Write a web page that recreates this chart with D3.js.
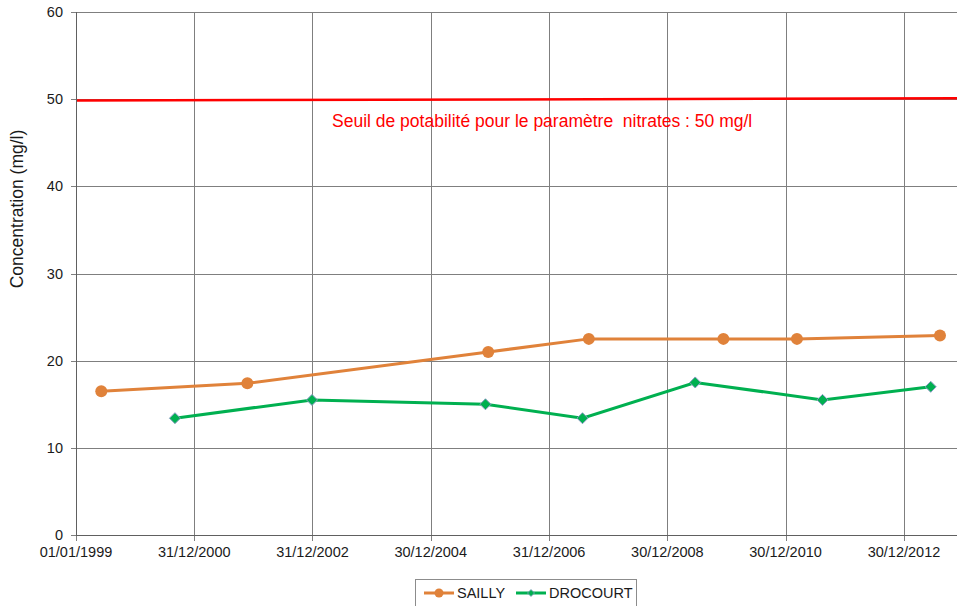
<!DOCTYPE html>
<html>
<head>
<meta charset="utf-8">
<script src="https://cdn.jsdelivr.net/npm/d3@7"></script>
<style>
  body { margin: 0; background: #fff; }
  svg { display: block; font-family: "Liberation Sans", Arial, sans-serif; }
</style>
</head>
<body>
<div id="chart"></div>
<script>
const seriesNames = ['SAILLY', 'DROCOURT']
const saillyDates = ['1999-06-06', '2001-11-24', '2005-12-20', '2007-09-02', '2009-12-11', '2011-03-10', '2013-08-09']
const saillyValues = [16.5, 17.4, 21.0, 22.5, 22.5, 22.5, 22.9]
const drocourtDates = ['2000-09-03', '2002-12-28', '2005-12-03', '2007-07-25', '2009-06-20', '2011-08-15', '2013-06-13']
const drocourtValues = [13.4, 15.5, 15.0, 13.4, 17.5, 15.5, 17.0]
const thresholdDates = ['1999-01-01', '2014-02-01']
const thresholdValues = [49.85, 50.1]
const thresholdLabel = 'Seuil de potabilité pour le paramètre  nitrates : 50 mg/l'
const xTickLabels = ['01/01/1999', '31/12/2000', '31/12/2002', '30/12/2004', '31/12/2006', '30/12/2008', '30/12/2010', '30/12/2012']
const yTicks = [0, 10, 20, 30, 40, 50, 60]
const yLabel = 'Concentration (mg/l)'

const width = 957
const height = 606
const plotLeft = 76
const plotTop = 12
const plotBottom = 535

const parseIso = d3.timeParse('%Y-%m-%d')
const parseFr = d3.timeParse('%d/%m/%Y')

const xScale = d3.scaleTime()
  .domain([parseFr(xTickLabels[0]), parseFr(xTickLabels[xTickLabels.length - 1])])
  .range([plotLeft, 904])
const yScale = d3.scaleLinear()
  .domain([0, 60])
  .range([plotBottom, plotTop])

const svg = d3.select('#chart')
  .append('svg')
    .attr('width', width)
    .attr('height', height)

const gridColor = '#7f7f7f'
const tickDates = xTickLabels.map(parseFr)

// grid
svg.append('g')
  .selectAll('line')
  .data(yTicks)
  .join('line')
    .attr('x1', plotLeft - 5)
    .attr('x2', width)
    .attr('y1', d => Math.round(yScale(d)) + 0.5)
    .attr('y2', d => Math.round(yScale(d)) + 0.5)
    .attr('stroke', gridColor)
    .attr('stroke-width', 1)

svg.append('g')
  .selectAll('line')
  .data(tickDates)
  .join('line')
    .attr('x1', d => Math.round(xScale(d)) + 0.5)
    .attr('x2', d => Math.round(xScale(d)) + 0.5)
    .attr('y1', plotTop)
    .attr('y2', plotBottom + 6)
    .attr('stroke', gridColor)
    .attr('stroke-width', 1)

// axis labels
svg.append('g')
  .selectAll('text')
  .data(yTicks)
  .join('text')
    .attr('x', 63)
    .attr('y', d => yScale(d))
    .attr('dy', '0.35em')
    .attr('text-anchor', 'end')
    .attr('font-size', 14.5)
    .attr('fill', '#1a1a1a')
    .text(d => d)

svg.append('g')
  .selectAll('text')
  .data(tickDates)
  .join('text')
    .attr('x', d => xScale(d))
    .attr('y', 557)
    .attr('text-anchor', 'middle')
    .attr('font-size', 14.5)
    .attr('fill', '#1a1a1a')
    .text((d, i) => xTickLabels[i])

svg.append('text')
  .attr('transform', 'translate(23,209) rotate(-90)')
  .attr('text-anchor', 'middle')
  .attr('font-size', 17.5)
  .attr('fill', '#1a1a1a')
  .text(yLabel)

// threshold
const line = d3.line()
  .x(d => xScale(d[0]))
  .y(d => yScale(d[1]))

svg.append('path')
  .datum(thresholdDates.map((d, i) => [parseIso(d), thresholdValues[i]]))
  .attr('d', line)
  .attr('fill', 'none')
  .attr('stroke', '#ff0000')
  .attr('stroke-width', 2.5)

svg.append('text')
  .attr('x', 332)
  .attr('y', 127)
  .attr('font-size', 17.5)
  .attr('fill', '#ff0000')
  .style('white-space', 'pre')
  .text(thresholdLabel)

// series
const orange = '#e0823a'
const green = '#00b050'
const sailly = saillyDates.map((d, i) => [parseIso(d), saillyValues[i]])
const drocourt = drocourtDates.map((d, i) => [parseIso(d), drocourtValues[i]])

svg.append('path')
  .datum(sailly)
  .attr('d', line)
  .attr('fill', 'none')
  .attr('stroke', orange)
  .attr('stroke-width', 3)

svg.append('g')
  .selectAll('circle')
  .data(sailly)
  .join('circle')
    .attr('cx', d => xScale(d[0]))
    .attr('cy', d => yScale(d[1]))
    .attr('r', 6)
    .attr('fill', orange)

svg.append('path')
  .datum(drocourt)
  .attr('d', line)
  .attr('fill', 'none')
  .attr('stroke', green)
  .attr('stroke-width', 3)

const diamond = 'M0,-5.5L5.5,0L0,5.5L-5.5,0Z'
svg.append('g')
  .selectAll('path')
  .data(drocourt)
  .join('path')
    .attr('transform', d => `translate(${xScale(d[0])},${yScale(d[1])})`)
    .attr('d', diamond)
    .attr('fill', green)
    .attr('stroke', '#8a9cc4')
    .attr('stroke-width', 1)

// axes on top
svg.append('line')
  .attr('x1', plotLeft + 0.5).attr('x2', plotLeft + 0.5)
  .attr('y1', plotTop).attr('y2', plotBottom)
  .attr('stroke', '#606060')
svg.append('line')
  .attr('x1', plotLeft).attr('x2', width)
  .attr('y1', plotBottom + 0.5).attr('y2', plotBottom + 0.5)
  .attr('stroke', '#606060')

// legend
const legend = svg.append('g')
legend.append('rect')
  .attr('x', 415.5)
  .attr('y', 579.5)
  .attr('width', 221)
  .attr('height', 40)
  .attr('fill', '#fff')
  .attr('stroke', '#8c8c8c')

const legendItems = [
  { name: seriesNames[0], color: orange, x: 424, marker: 'circle' },
  { name: seriesNames[1], color: green, x: 516, marker: 'diamond' }
]
legendItems.forEach(item => {
  const g = legend.append('g').attr('transform', `translate(${item.x},593)`)
  g.append('line')
    .attr('x1', 0).attr('x2', 30)
    .attr('stroke', item.color)
    .attr('stroke-width', 3)
  if (item.marker === 'circle') {
    g.append('circle').attr('cx', 15).attr('r', 4.5).attr('fill', item.color)
  } else {
    g.append('path')
      .attr('transform', 'translate(15,0)')
      .attr('d', 'M0,-3.5L3.5,0L0,3.5L-3.5,0Z')
      .attr('fill', item.color)
      .attr('stroke', '#8a9cc4')
      .attr('stroke-width', 0.8)
  }
  g.append('text')
    .attr('x', 33)
    .attr('dy', '0.35em')
    .attr('font-size', 14.5)
    .attr('fill', '#1a1a1a')
    .text(item.name)
})
</script>
</body>
</html>
